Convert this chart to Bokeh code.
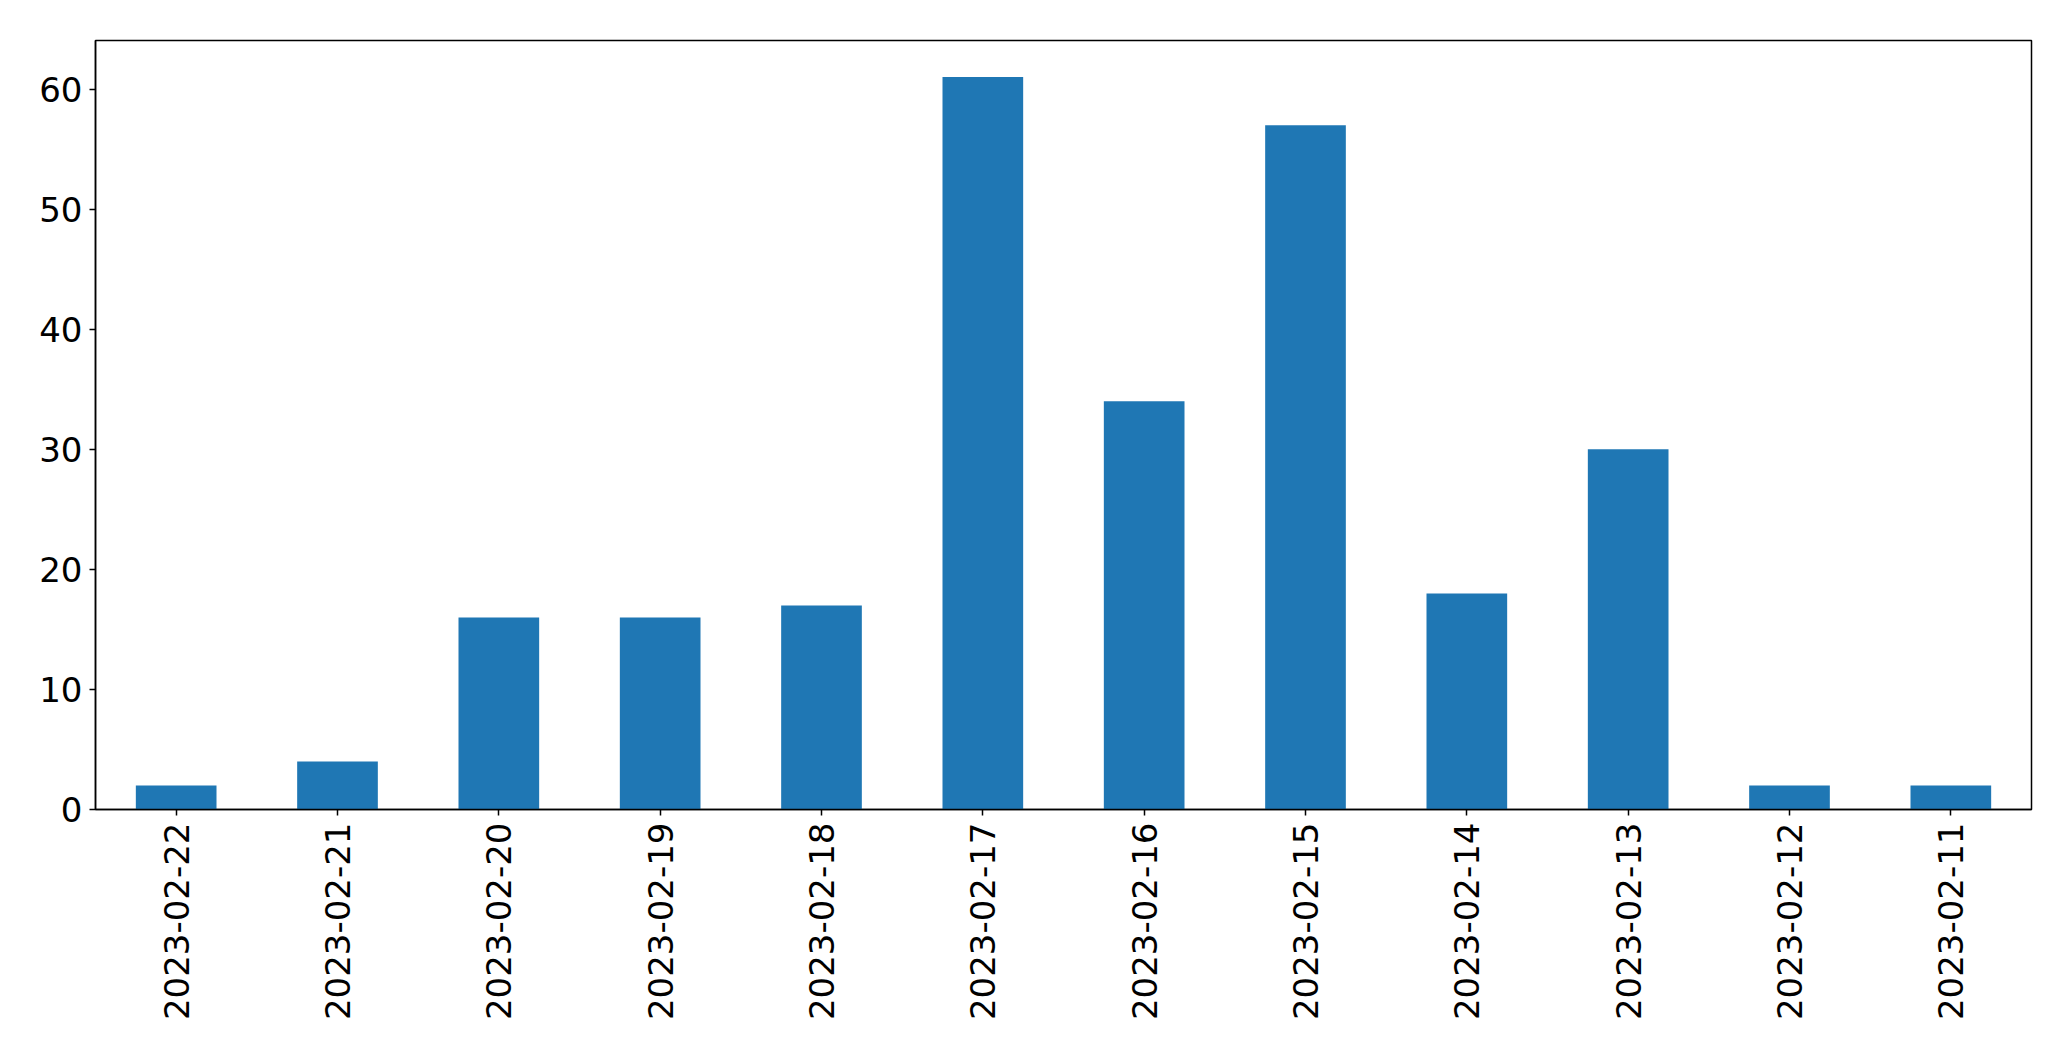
import math
from bokeh.plotting import figure
from bokeh.models import FactorRange, Range1d, FixedTicker
from bokeh.embed import file_html
from bokeh.resources import INLINE

dates = ["2023-02-22", "2023-02-21", "2023-02-20", "2023-02-19", "2023-02-18",
         "2023-02-17", "2023-02-16", "2023-02-15", "2023-02-14", "2023-02-13",
         "2023-02-12", "2023-02-11"]
counts = [2, 4, 16, 16, 17, 61, 34, 57, 18, 30, 2, 2]
y_ticks = [0, 10, 20, 30, 40, 50, 60]

p = figure(width=2050, height=1040, output_backend="svg", toolbar_location=None,
           x_range=FactorRange(factors=dates, range_padding=0),
           y_range=Range1d(0, max(counts) * 1.05),
           min_border_left=95, min_border_top=40, min_border_right=19,
           min_border_bottom=231)

p.vbar(x=dates, top=counts, width=0.5, fill_color="#1f77b4", line_color=None)

p.grid.visible = False
p.outline_line_color = "black"
p.outline_line_width = 1.5
p.outline_line_alpha = 1.0

for ax in (p.xaxis, p.yaxis):
    ax.axis_line_color = "black"
    ax.axis_line_width = 1.5
    ax.major_tick_line_color = "black"
    ax.major_tick_line_width = 1.5
    ax.major_tick_in = 0
    ax.major_tick_out = 6
    ax.minor_tick_line_color = None
    ax.major_label_text_font = "DejaVu Sans"
    ax.major_label_text_font_size = "34px"
    ax.major_label_text_color = "black"
    ax.major_label_standoff = 7

p.yaxis.ticker = FixedTicker(ticks=y_ticks)
p.xaxis.major_label_orientation = math.pi / 2

open("out.html", "w").write(file_html(p, INLINE))
